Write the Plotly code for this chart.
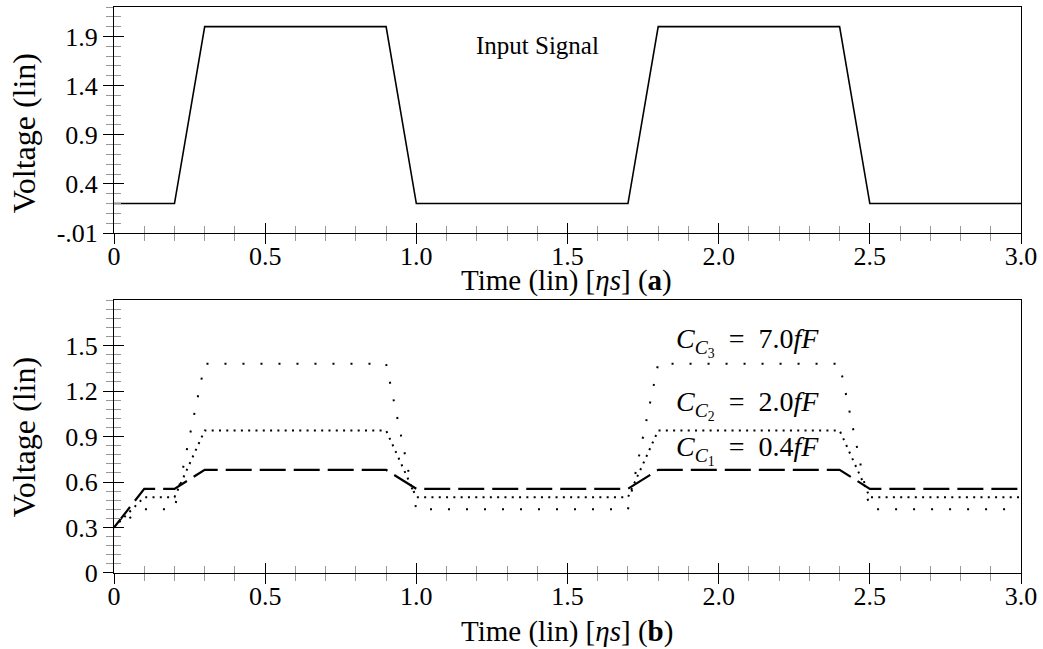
import plotly.graph_objects as go

# ---- data ----
t_in = [0, 0.2, 0.3, 0.9, 1.0, 1.7, 1.8, 2.4, 2.5, 3.0]
v_in = [0.2, 0.2, 2.0, 2.0, 0.2, 0.2, 2.0, 2.0, 0.2, 0.2]

t_out = [0, 0.1, 0.2, 0.3, 0.9, 1.0, 1.7, 1.8, 2.4, 2.5, 3.0]
v_c1 = [0.30, 0.555, 0.555, 0.68, 0.68, 0.555, 0.555, 0.68, 0.68, 0.555, 0.555]
v_c2 = [0.30, 0.50, 0.50, 0.94, 0.94, 0.50, 0.50, 0.94, 0.94, 0.50, 0.50]
v_c3 = [0.30, 0.42, 0.42, 1.38, 1.38, 0.42, 0.42, 1.38, 1.38, 0.42, 0.42]

x_ticks = [0, 0.5, 1.0, 1.5, 2.0, 2.5, 3.0]
x_labels = ["0", "0.5", "1.0", "1.5", "2.0", "2.5", "3.0"]
y1_ticks = [-0.1, 0.4, 0.9, 1.4, 1.9]
y1_labels = ["-.01", "0.4", "0.9", "1.4", "1.9"]
y2_ticks = [0, 0.3, 0.6, 0.9, 1.2, 1.5]
y2_labels = ["0", "0.3", "0.6", "0.9", "1.2", "1.5"]

FONT = "Liberation Serif, Times New Roman, serif"

fig = go.Figure()
fig.add_trace(go.Scatter(x=t_in, y=v_in, mode="lines", line=dict(color="black", width=1.6),
                         xaxis="x", yaxis="y", showlegend=False, hoverinfo="skip"))
fig.add_trace(go.Scatter(x=t_out, y=v_c3, mode="lines", line=dict(color="black", width=2, dash="2px,16px"),
                         xaxis="x2", yaxis="y2", showlegend=False, hoverinfo="skip"))
fig.add_trace(go.Scatter(x=t_out, y=v_c2, mode="lines", line=dict(color="black", width=2, dash="2px,5.3px"),
                         xaxis="x2", yaxis="y2", showlegend=False, hoverinfo="skip"))
fig.add_trace(go.Scatter(x=t_out, y=v_c1, mode="lines", line=dict(color="black", width=2.2, dash="26px,8px"),
                         xaxis="x2", yaxis="y2", showlegend=False, hoverinfo="skip"))
# invisible traces for overlay (second-side tick) axes
fig.add_trace(go.Scatter(x=[None], y=[None], xaxis="x3", yaxis="y3", showlegend=False, hoverinfo="skip"))
fig.add_trace(go.Scatter(x=[None], y=[None], xaxis="x4", yaxis="y4", showlegend=False, hoverinfo="skip"))

tickfont = dict(family=FONT, size=26, color="black")
titlefont = dict(family=FONT, size=29, color="black")
ytitlefont = dict(family=FONT, size=32, color="black")

def xmain(anchor):
    return dict(anchor=anchor, range=[0, 3.0], domain=[0, 1], tickvals=x_ticks, ticktext=x_labels,
                ticks="inside", ticklen=10, tickcolor="black", tickwidth=1, ticklabelstandoff=0,
                minor=dict(dtick=0.1, tick0=0, ticks="inside", ticklen=7, tickcolor="#999999", tickwidth=1),
                showline=True, linecolor="black", linewidth=1, mirror=True,
                showgrid=False, zeroline=False, tickfont=tickfont)

def xout(anchor, over):
    return dict(anchor=anchor, overlaying=over, range=[0, 3.0], tickvals=x_ticks,
                ticks="outside", ticklen=10, tickcolor="black", tickwidth=1,
                minor=dict(dtick=0.1, tick0=0, ticks="outside", ticklen=7, tickcolor="#999999", tickwidth=1),
                showline=False, showgrid=False, zeroline=False, showticklabels=False)

def ymain(anchor, dom, rng, tv, tt, mdt):
    return dict(anchor=anchor, domain=dom, range=rng, tickvals=tv, ticktext=tt,
                ticks="outside", ticklen=10, tickcolor="black", tickwidth=1,
                minor=dict(dtick=mdt, tick0=tv[0], ticks="outside", ticklen=7, tickcolor="#999999", tickwidth=1),
                showline=True, linecolor="black", linewidth=1, mirror=True,
                showgrid=False, zeroline=False, tickfont=tickfont)

def yin(anchor, over, rng, tv, mdt):
    return dict(anchor=anchor, overlaying=over, range=rng, tickvals=tv,
                ticks="inside", ticklen=10, tickcolor="black", tickwidth=1,
                minor=dict(dtick=mdt, tick0=tv[0], ticks="inside", ticklen=7, tickcolor="#999999", tickwidth=1),
                showline=False, showgrid=False, zeroline=False, showticklabels=False)

top_dom = [0.6007, 1.0]
bot_dom = [0.0, 0.4823]

fig.update_layout(
    width=1043, height=649,
    margin=dict(l=114, r=22, t=7, b=76),
    paper_bgcolor="white", plot_bgcolor="white",
    font=dict(family=FONT, color="black"),
    xaxis=xmain("y"),
    yaxis=ymain("x", top_dom, [-0.1, 2.2], y1_ticks, y1_labels, 0.1),
    xaxis2=xmain("y2"),
    yaxis2=ymain("x2", bot_dom, [0, 1.8], y2_ticks, y2_labels, 0.06),
    xaxis3=xout("y3", "x"),
    yaxis3=yin("x3", "y", [-0.1, 2.2], y1_ticks, 0.1),
    xaxis4=xout("y4", "x2"),
    yaxis4=yin("x4", "y2", [0, 1.8], y2_ticks, 0.06),
)

# axis titles
fig.add_annotation(x=0.4994, y=0.5160, xref="paper", yref="paper", xanchor="center", yanchor="middle",
                   text="Time (lin) [<i>η</i><i>s</i>] (<b>a</b>)", showarrow=False, font=titlefont)
fig.add_annotation(x=0.4994, y=-0.1042, xref="paper", yref="paper", xanchor="center", yanchor="middle",
                   text="Time (lin) [<i>η</i><i>s</i>] (<b>b</b>)", showarrow=False, font=titlefont)
fig.add_annotation(x=-0.0992, y=0.777, xref="paper", yref="paper", xanchor="center", yanchor="middle",
                   text="Voltage (lin)", textangle=-90, showarrow=False, font=ytitlefont)
fig.add_annotation(x=-0.0992, y=0.240, xref="paper", yref="paper", xanchor="center", yanchor="middle",
                   text="Voltage (lin)", textangle=-90, showarrow=False, font=ytitlefont)

labfont = dict(family=FONT, size=28, color="black")
fig.add_annotation(x=1.40, y=1.81, xref="x", yref="y", text="Input Signal", showarrow=False,
                   font=dict(family=FONT, size=25, color="black"))
EQ = "\u2002=\u2002"
fig.add_annotation(x=2.094, y=1.52, xref="x2", yref="y2",
                   text="<i>C</i><sub><i>C</i><sub>3</sub></sub>" + EQ + "7.0<i>fF</i>", showarrow=False, font=labfont)
fig.add_annotation(x=2.094, y=1.11, xref="x2", yref="y2",
                   text="<i>C</i><sub><i>C</i><sub>2</sub></sub>" + EQ + "2.0<i>fF</i>", showarrow=False, font=labfont)
fig.add_annotation(x=2.094, y=0.81, xref="x2", yref="y2",
                   text="<i>C</i><sub><i>C</i><sub>1</sub></sub>" + EQ + "0.4<i>fF</i>", showarrow=False, font=labfont)

fig.write_html("out.html", post_script="document.body.style.margin='0';",
               config={"displayModeBar": False})
